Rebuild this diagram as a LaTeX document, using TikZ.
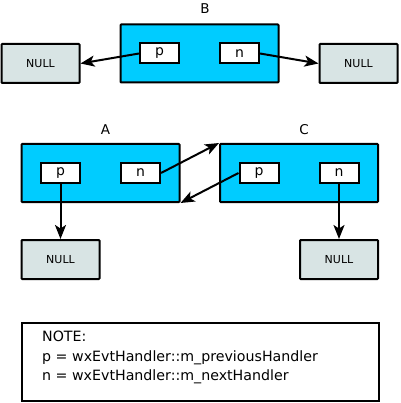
\documentclass[tikz,border=0pt]{standalone}
\usepackage{fontspec}
\setmainfont{DejaVu Sans}
\usetikzlibrary{arrows.meta}
\definecolor{objblue}{RGB}{0,204,255}
\definecolor{nullgray}{RGB}{216,228,228}
\begin{document}
\begin{tikzpicture}[x=1pt, y=1pt, node distance=40pt, auto]
    \tikzstyle{handler} = [draw, line width=2pt, rounded corners=0.8pt, fill=objblue, minimum width=158pt, minimum height=58pt, inner sep=0pt]
    \tikzstyle{field} = [draw, line width=2pt, fill=white, minimum width=39pt, minimum height=20pt, inner sep=0pt, font=\fontsize{14}{16}\selectfont]
    \tikzstyle{nullbox} = [draw, line width=2pt, rounded corners=0.8pt, fill=nullgray, minimum width=78pt, minimum height=39pt, inner sep=0pt, font=\fontsize{11}{13}\selectfont]
    \tikzstyle{title} = [inner sep=0pt, font=\fontsize{13.5}{15}\selectfont]
    \tikzstyle{ptr} = [-{Stealth[length=14pt, width=11pt, inset=3.5pt]}, line width=2pt]

    \useasboundingbox (0,0) rectangle (400,-403);

    \node[handler] (B) at (199.5,-53.5) {};
    \node[field, left of=B] (Bp) {p};
    \node[field, right of=B] (Bn) {n};
    \node[title, above of=B, xshift=5.5pt, yshift=4.5pt] (Btitle) {B};

    \node[handler] (A) at (100.5,-173) {};
    \node[field, left of=A] (Ap) {p};
    \node[field, right of=A] (An) {n};
    \node[title, above of=A, xshift=5pt, yshift=3.5pt] (Atitle) {A};

    \node[handler] (C) at (299,-173) {};
    \node[field, left of=C] (Cp) {p};
    \node[field, right of=C] (Cn) {n};
    \node[title, above of=C, xshift=5pt, yshift=3.5pt] (Ctitle) {C};

    \node[nullbox] (nullBp) at (40.5,-63.5) {NULL};
    \node[nullbox] (nullBn) at (358.5,-63.5) {NULL};
    \node[nullbox] (nullAp) at (60.5,-259.5) {NULL};
    \node[nullbox] (nullCn) at (339,-259.5) {NULL};

    \node[draw, line width=2pt, minimum width=357pt, minimum height=78pt, inner sep=0pt] (note) at (200,-361.5) {};
    \node[anchor=west, align=left, inner sep=0pt, font=\fontsize{14.2}{19.5}\selectfont] (notetext) at ([xshift=21.5pt, yshift=4pt]note.west) {NOTE:\\p = wxEvtHandler::m\_previousHandler\\n = wxEvtHandler::m\_nextHandler};

    \draw[ptr] (Bp.west) -- (nullBp.east);
    \draw[ptr] (Bn.east) -- (nullBn.west);
    \draw[ptr] (Ap.south) -- (nullAp.north);
    \draw[ptr] (Cn.south) -- (nullCn.north);
    \draw[ptr] (An.east) -- (C.north west);
    \draw[ptr] (Cp.west) -- (A.south east);
\end{tikzpicture}
\end{document}
